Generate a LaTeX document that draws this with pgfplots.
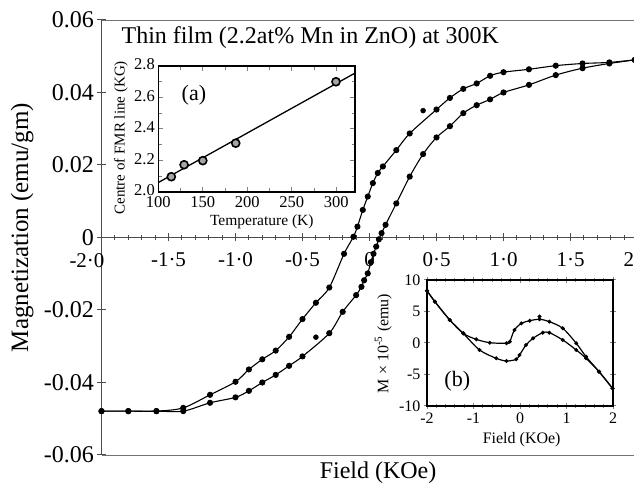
\documentclass[border=0pt]{standalone}
\usepackage{fontspec}
\setmainfont{Liberation Serif}
\usepackage{pgfplots}
\pgfplotsset{compat=1.18}
\begin{document}
\begin{tikzpicture}
% ---- main hysteresis loop ----
\begin{axis}[
  scale only axis, width=536pt, height=435pt,
  at={(101.5pt,31pt)}, anchor=south west,
  xmin=-2, xmax=2, ymin=-0.06, ymax=0.06,
  axis x line=middle, axis y line=left,
  every inner x axis line/.append style={-},
  every outer y axis line/.append style={-},
  every outer x axis line/.append style={-},
  every inner y axis line/.append style={-},
  axis line style={-, line width=1.3pt, black!70},
  hide obscured x ticks=false, hide obscured y ticks=false,
  scaled y ticks=false, scaled x ticks=false,
  xtick={-2,-1.5,-1,-0.5,0,0.5,1,1.5,2},
  xticklabels={,-1·5,-1·0,-0·5,0,0·5,1·0,1·5,2·0},
  minor x tick num=4,
  ytick={-0.06,-0.04,-0.02,0,0.02,0.04,0.06},
  yticklabels={-0.06,-0.04,-0.02,0,0.02,0.04,0.06},
  tick align=center,
  major tick length=8pt, minor tick length=5pt,
  tick style={black!70, line width=1pt},
  yticklabel style={font=\fontsize{24}{28}\selectfont},
  xticklabel style={font=\fontsize{21}{25}\selectfont, yshift=-8pt},
  ylabel={Magnetization (emu/gm)},
  ylabel style={at={(axis description cs:-0.148,0.523)}, anchor=center, font=\fontsize{25}{29}\selectfont},
  xlabel={Field (KOe)},
  xlabel style={at={(axis description cs:0.516,-0.041)}, anchor=center, font=\fontsize{24}{28}\selectfont},
  clip=false,
]
\draw[black!55, line width=0.8pt] (axis description cs:0,1) -- (axis description cs:1,1);
\draw[black!55, line width=0.8pt] (axis description cs:0,0) -- (axis description cs:1,0);
\node[font=\fontsize{21}{25}\selectfont] at ([xshift=-14.5pt,yshift=-23.5pt]axis cs:-2,0) {-2·0};
\node[anchor=west, font=\fontsize{24}{28}\selectfont] at (axis description cs:0.031,0.959) {Thin film (2.2at\% Mn in ZnO) at 300K};
% descending branch
\addplot[black, line width=1.1pt, smooth, tension=0.5, mark=*, mark size=2.5pt] coordinates {
 (-2.0,-0.0479) (-1.80,-0.0479) (-1.59,-0.0479) (-1.39,-0.0470) (-1.19,-0.0434)
 (-1.0,-0.0398) (-0.90,-0.0364) (-0.80,-0.0336) (-0.70,-0.0312) (-0.60,-0.0274)
 (-0.50,-0.0225) (-0.40,-0.0180) (-0.30,-0.0138) (-0.19,-0.0045) (-0.12,0.0002)
 (-0.09,0.003) (-0.05,0.0076) (-0.013,0.0113) (0.025,0.015) (0.062,0.0178)
 (0.10,0.0196) (0.20,0.0241) (0.30,0.0287) (0.50,0.0353) (0.60,0.0385)
 (0.70,0.0410) (0.80,0.0425) (0.90,0.0446) (1.0,0.0456) (1.19,0.0464)
 (1.39,0.0474) (1.59,0.0480) (1.79,0.0483) (1.98,0.0490)};
% ascending branch
\addplot[black, line width=1.1pt, smooth, tension=0.5, mark=*, mark size=2.5pt] coordinates {
 (-2.0,-0.0479) (-1.80,-0.0479) (-1.59,-0.0479) (-1.39,-0.0479) (-1.19,-0.0456)
 (-1.0,-0.0441) (-0.90,-0.0423) (-0.80,-0.0400) (-0.70,-0.0379) (-0.60,-0.0354)
 (-0.50,-0.0328) (-0.30,-0.0264) (-0.20,-0.0205) (-0.10,-0.0159) (-0.06,-0.0136)
 (-0.04,-0.0118) (-0.013,-0.0099) (0.01,-0.0068) (0.03,-0.0045) (0.05,-0.0025)
 (0.07,-0.0005) (0.09,0.0012) (0.12,0.0035) (0.20,0.0094) (0.30,0.0168)
 (0.40,0.0230) (0.50,0.0276) (0.60,0.0307) (0.70,0.0343) (0.80,0.0365)
 (0.90,0.0381) (1.0,0.0400) (1.19,0.0421) (1.39,0.0448) (1.59,0.0467)
 (1.79,0.0480) (1.98,0.0490)};
% stray points
\addplot[only marks, mark=*, mark size=2.5pt, black] coordinates {(0.40,0.0350) (-0.40,-0.0275)};
\end{axis}
% ---- inset (a) ----
\begin{axis}[
  scale only axis, width=196.7pt, height=126pt,
  at={(158.3pt,294pt)}, anchor=south west,
  xmin=100, xmax=321, ymin=2.0, ymax=2.8,
  axis background/.style={fill=white},
  axis line style={line width=1.5pt},
  xtick={100,150,200,250,300},
  ytick={2.0,2.2,2.4,2.6,2.8},
  yticklabels={2.0,2.2,2.4,2.6,2.8},
  xticklabels={100,150,200,250,300},
  minor y tick num=1, minor x tick num=1,
  tick align=inside, major tick length=5pt, minor tick length=3.5pt,
  tick style={line width=1pt},
  tick label style={font=\fontsize{16.5}{19}\selectfont},
  xticklabel style={yshift=-1pt},
  yticklabel style={yshift=1.5pt},
  ylabel={Centre of FMR line (KG)},
  ylabel style={at={(axis description cs:-0.19,0.43)}, anchor=center, font=\fontsize{15}{18}\selectfont},
  xlabel={Temperature (K)},
  xlabel style={at={(axis description cs:0.526,-0.236)}, anchor=center, font=\fontsize{15.5}{18}\selectfont},
  clip=false,
]
\node[font=\fontsize{22}{26}\selectfont] at (axis description cs:0.181,0.77) {(a)};
\addplot[black, line width=1.3pt] coordinates {(100,2.06) (321,2.755)};
\addplot[only marks, mark=*, mark size=4pt, mark options={fill=black!35, draw=black, line width=1.6pt}]
 coordinates {(114.6,2.097) (129,2.173) (150,2.199) (187,2.31) (299.6,2.70)};
\end{axis}
% ---- inset (b) ----
\begin{axis}[
  scale only axis, width=186pt, height=126pt,
  at={(427pt,80pt)}, anchor=south west,
  xmin=-2, xmax=2, ymin=-10, ymax=10,
  axis background/.style={fill=white},
  axis line style={line width=1.5pt},
  xtick={-2,-1,0,1,2}, xticklabels={-2,-1,0,1,2},
  ytick={-10,-5,0,5,10}, yticklabels={-10,-5,0,5,10},
  minor x tick num=4,
  tick align=center, major tick length=6pt, minor tick length=4pt,
  tick style={line width=1pt},
  tick label style={font=\fontsize{16}{19}\selectfont},
  ylabel={M × 10\textsuperscript{-5} (emu)},
  ylabel style={at={(axis description cs:-0.235,0.497)}, anchor=center, font=\fontsize{16}{19}\selectfont},
  xlabel={Field (KOe)},
  xlabel style={at={(axis description cs:0.509,-0.27)}, anchor=center, font=\fontsize{16}{19}\selectfont},
  clip=false,
]
\node[font=\fontsize{22}{26}\selectfont] at (axis description cs:0.163,0.193) {(b)};
\addplot[black, line width=1.2pt, smooth, mark=*, mark size=1.3pt] coordinates {
 (-2,8.3) (-1.83,6.56) (-1.51,3.65) (-1.22,1.53) (-0.94,0.58) (-0.65,0.05)
 (-0.29,-0.05) (-0.22,0.21) (-0.12,2.06) (0.03,3.12) (0.21,3.54) (0.42,3.76)
 (0.63,3.39) (0.92,2.33) (1.21,-0.05) (1.42,-2.17) (1.70,-4.55) (1.99,-7.2)};
\addplot[black, line width=1.2pt, smooth, mark=*, mark size=1.3pt] coordinates {
 (-2,8.3) (-1.83,6.56) (-1.51,3.65) (-1.22,1.53) (-0.87,-1.11) (-0.51,-2.43)
 (-0.29,-2.86) (-0.08,-2.59) (-0.01,-1.9) (0.13,-0.32) (0.28,0.74) (0.49,1.64)
 (0.63,1.64) (0.92,0.48) (1.21,-1.11) (1.42,-2.43) (1.70,-4.55) (1.99,-7.2)};
\addplot[only marks, mark=*, mark size=1.8pt, black] coordinates {(0.42,4.2)};
\end{axis}
\pgfresetboundingbox
\useasboundingbox (0,0) rectangle (634pt,486pt);
\end{tikzpicture}
\end{document}
